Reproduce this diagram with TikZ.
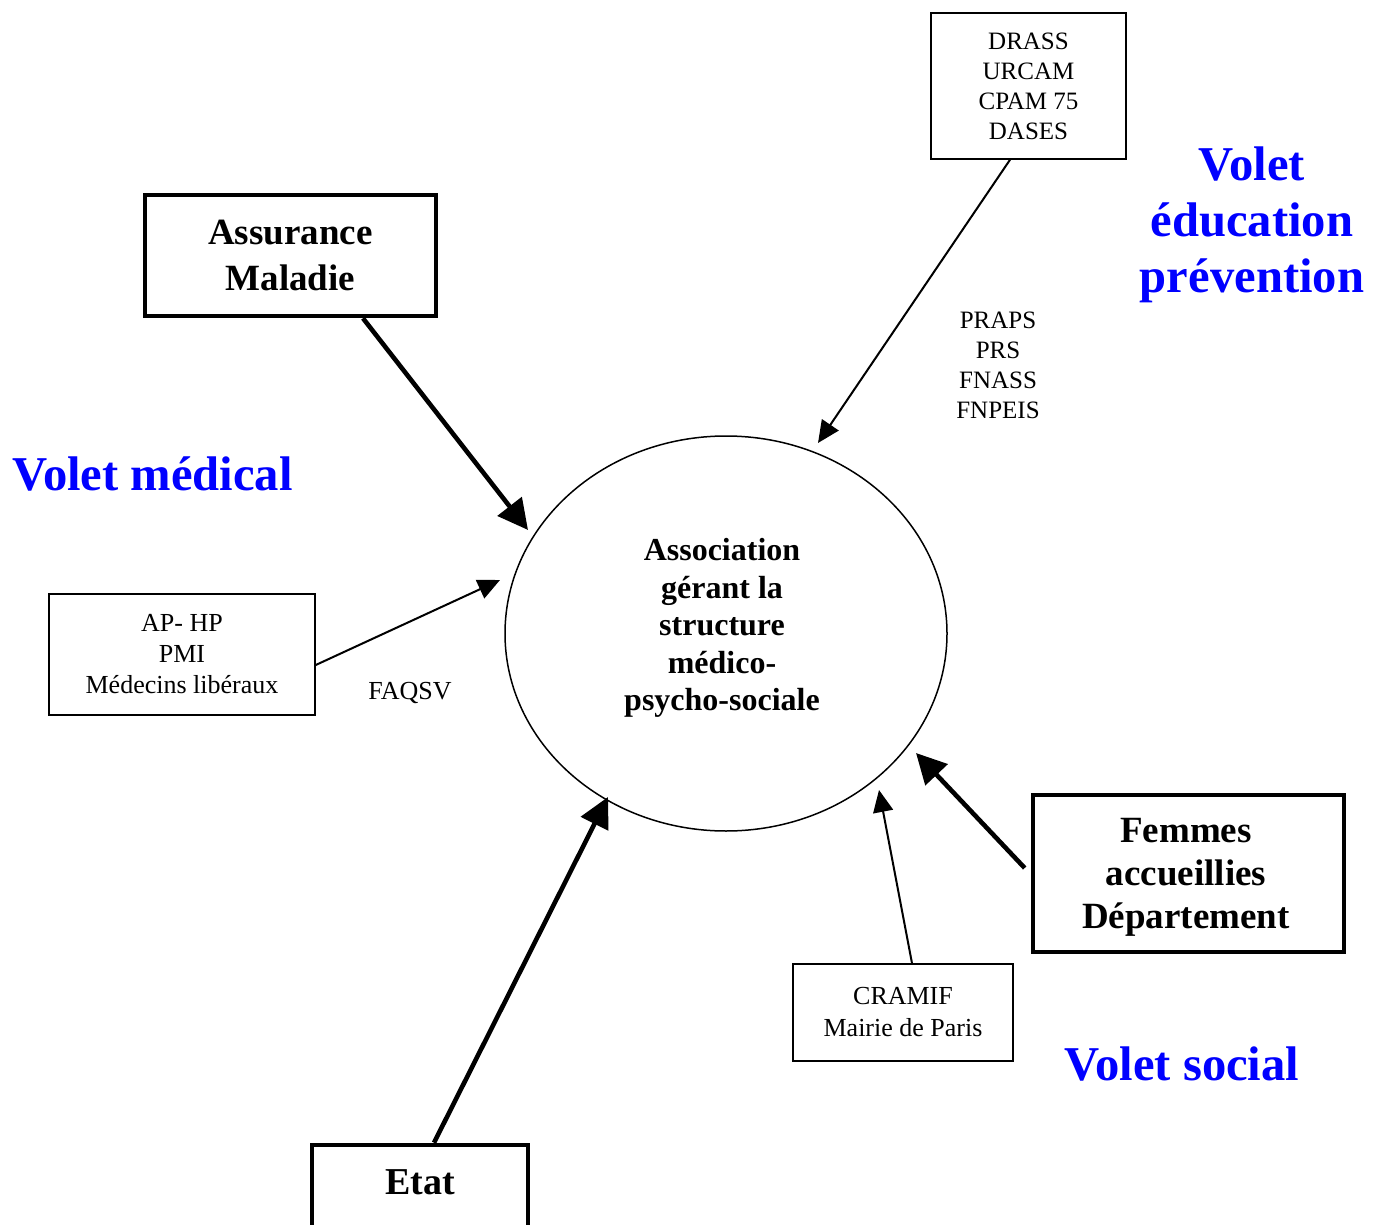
\documentclass[tikz,border=0pt]{standalone}
\usepackage{fontspec}
\setmainfont{Liberation Serif}
\usetikzlibrary{arrows.meta,shapes.geometric}
\definecolor{voletblue}{RGB}{0,0,255}
\tikzset{
  thinbox/.style={draw, line width=0.75pt, align=center, inner sep=0pt},
  thickbox/.style={draw, line width=2.3pt, align=center, inner sep=0pt},
  thinarrow/.style={line width=1pt, -{Triangle[length=11pt,width=10pt]}},
  thickarrow/.style={line width=2.3pt, -{Triangle[length=15pt,width=15pt]}},
  volet/.style={text=voletblue, font=\fontsize{24.3}{28}\selectfont\bfseries, align=center, inner sep=0pt},
  smalltext/.style={font=\fontsize{12.5}{15}\selectfont, align=center, inner sep=0pt},
  bigtext/.style={font=\fontsize{18.5}{22.5}\selectfont\bfseries, align=center}
}
\begin{document}
\begin{tikzpicture}[x=0.5pt,y=-0.5pt]
\useasboundingbox (0,0) rectangle (1379,1224);

% central ellipse
\node (asso) [ellipse, draw, line width=0.75pt, minimum width=221pt, minimum height=197.5pt] at (726,633.5) {};
\node (assotext) [font=\fontsize{16}{18.75}\selectfont\bfseries, align=center, inner sep=0pt] at (722,628)
  {Association\\gérant la\\structure\\médico-\\psycho-sociale};

% boxes
\node (drass) [thinbox, smalltext, minimum width=97.5pt, minimum height=73pt] at (1028.5,86)
  {DRASS\\URCAM\\CPAM 75\\DASES};
\node (ass) [thickbox, bigtext, font=\fontsize{18.5}{23}\selectfont\bfseries, minimum width=145.5pt, minimum height=60.5pt] at (290.5,255.5)
  {Assurance\\Maladie};
\node (aphp) [thinbox, font=\fontsize{13}{15.5}\selectfont, minimum width=133pt, minimum height=60.5pt] at (182,654.5)
  {AP- HP\\PMI\\Médecins libéraux};
\node (fem) [thickbox, minimum width=155.5pt, minimum height=78.5pt] at (1188.5,873.5) {};
\node (femtext) [bigtext, font=\fontsize{18.5}{21.5}\selectfont\bfseries, inner sep=0pt] at (1186,877.5)
  {Femmes\\accueillies\\Département};
\node (cramif) [thinbox, font=\fontsize{13}{16}\selectfont, minimum width=110pt, minimum height=48.5pt] at (903,1012.5)
  {CRAMIF\\Mairie de Paris};
\node (etatbox) [thickbox, minimum width=108pt, minimum height=47.5pt] at (420,1192.5) {};
\node (etat) [font=\fontsize{19}{22}\selectfont\bfseries, inner sep=0pt] at (420,1182) {Etat};

% labels
\node (praps) [smalltext] at (998,365.5) {PRAPS\\PRS\\FNASS\\FNPEIS};
\node (faqsv) [smalltext, font=\fontsize{13}{15}\selectfont] at (410,693) {FAQSV};
\node (vmed) [volet, anchor=west] at (12,474) {Volet médical};
\node (vedu) [volet] at (1252,225) {Volet\\éducation\\prévention};
\node (vsoc) [volet] at (1182,1064) {Volet social};

% arrow end points
\coordinate (eAss) at (528,530);
\coordinate (eDrass) at (818,443);
\coordinate (eAphp) at (500,580);
\coordinate (eEtat) at (608,797);
\coordinate (eCramif) at (879,790);
\coordinate (eFem) at (916,753);

% connectors
\draw[thickarrow] ([xshift=36.25pt]ass.south) -- (eAss);
\draw[thinarrow] ([xshift=-9.25pt]drass.south) -- (eDrass);
\draw[thinarrow] ([yshift=-5.25pt]aphp.east) -- (eAphp);
\draw[thickarrow] ([xshift=7pt]etatbox.north) -- (eEtat);
\draw[thinarrow] ([xshift=4.5pt]cramif.north) -- (eCramif);
\draw[thickarrow] ([xshift=-3pt,yshift=2.75pt]fem.west) -- (eFem);
\end{tikzpicture}
\end{document}
